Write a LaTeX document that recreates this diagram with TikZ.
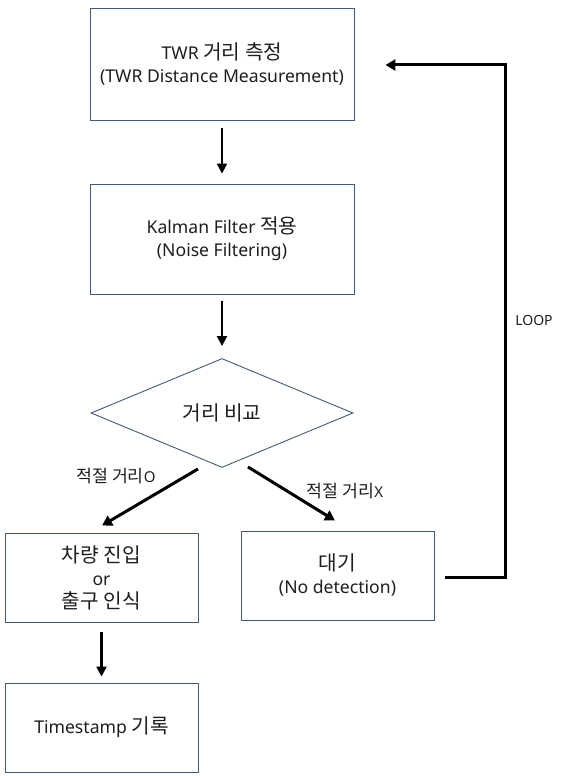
\documentclass[tikz,border=0pt]{standalone}
\usepackage{fontspec}
\setmainfont{Noto Sans}
\newfontfamily\kr{Noto Sans CJK KR}[Scale=1.15]
\usetikzlibrary{shapes.geometric,arrows.meta,calc}
\definecolor{boxc}{RGB}{66,88,122}
\definecolor{txt}{RGB}{30,30,30}
\begin{document}
\begin{tikzpicture}[x=1pt,y=-1pt,
  font=\fontsize{17.6}{23}\selectfont,
  every node/.style={text=txt},
  boxn/.style={draw=boxc,line width=0.9pt,fill=white,minimum width=#1,inner sep=0pt,align=center},
  arr/.style={-{Triangle[length=10pt,width=10pt]},line width=2.2pt,black},
  darr/.style={-{Triangle[length=10pt,width=11pt]},line width=3pt,black},
  lbl/.style={font=\fontsize{15}{17}\selectfont,inner sep=0pt}]
\useasboundingbox (0,0) rectangle (561,776);
\node[boxn=264pt,minimum height=112pt] (b1) at (222,64) {TWR {\kr 거리 측정}\\(TWR Distance Measurement)};
\node[boxn=264pt,minimum height=110pt] (b2) at (222,239) {Kalman Filter {\kr 적용}\\(Noise Filtering)};
\node[diamond,draw=boxc,line width=0.9pt,minimum width=262pt,minimum height=109pt,inner sep=0pt] (d) at (222,413) {\kr 거리 비교};
\node[boxn=193pt,minimum height=89pt] (b3) at (101.5,577.5) {{\kr 차량 진입}\\or\\{\kr 출구 인식}};
\node[boxn=193pt,minimum height=89pt] (b5) at (337.5,575.5) {{\kr 대기}\\(No detection)};
\node[boxn=193pt,minimum height=89pt] (b4) at (101.5,727.5) {Timestamp {\kr 기록}};
\draw[arr,shorten <=8pt,shorten >=10pt] (b1) -- (b2);
\draw[arr,shorten <=7pt,shorten >=12pt] (b2) -- (d);
\draw[arr,shorten <=10pt,shorten >=6pt] (b3) -- (b4);
\coordinate (ls) at ($(d.south)+(-24,1)$);
\coordinate (le) at ($(b3.north)+(0.5,-7)$);
\coordinate (rs) at ($(d.south)+(26,-1)$);
\coordinate (re) at ($(b5.north)+(-2.5,-10)$);
\draw[darr] (ls) -- (le);
\draw[darr] (rs) -- (re);
\node[lbl] (l1) at (116,476) {{\kr 적절 거리}O};
\node[lbl] (l2) at (345,491) {{\kr 적절 거리}X};
\coordinate (lpa) at ($(b5.east)+(11,1.5)$);
\coordinate (lpb) at (505,577);
\coordinate (lpc) at (505,65);
\coordinate (lpd) at ($(b1.east)+(31,1)$);
\draw[darr] (lpa) -- (lpb) -- (lpc) -- (lpd);
\node[lbl,font=\fontsize{14}{16}\selectfont] (l3) at (534,320) {LOOP};
\end{tikzpicture}
\end{document}
